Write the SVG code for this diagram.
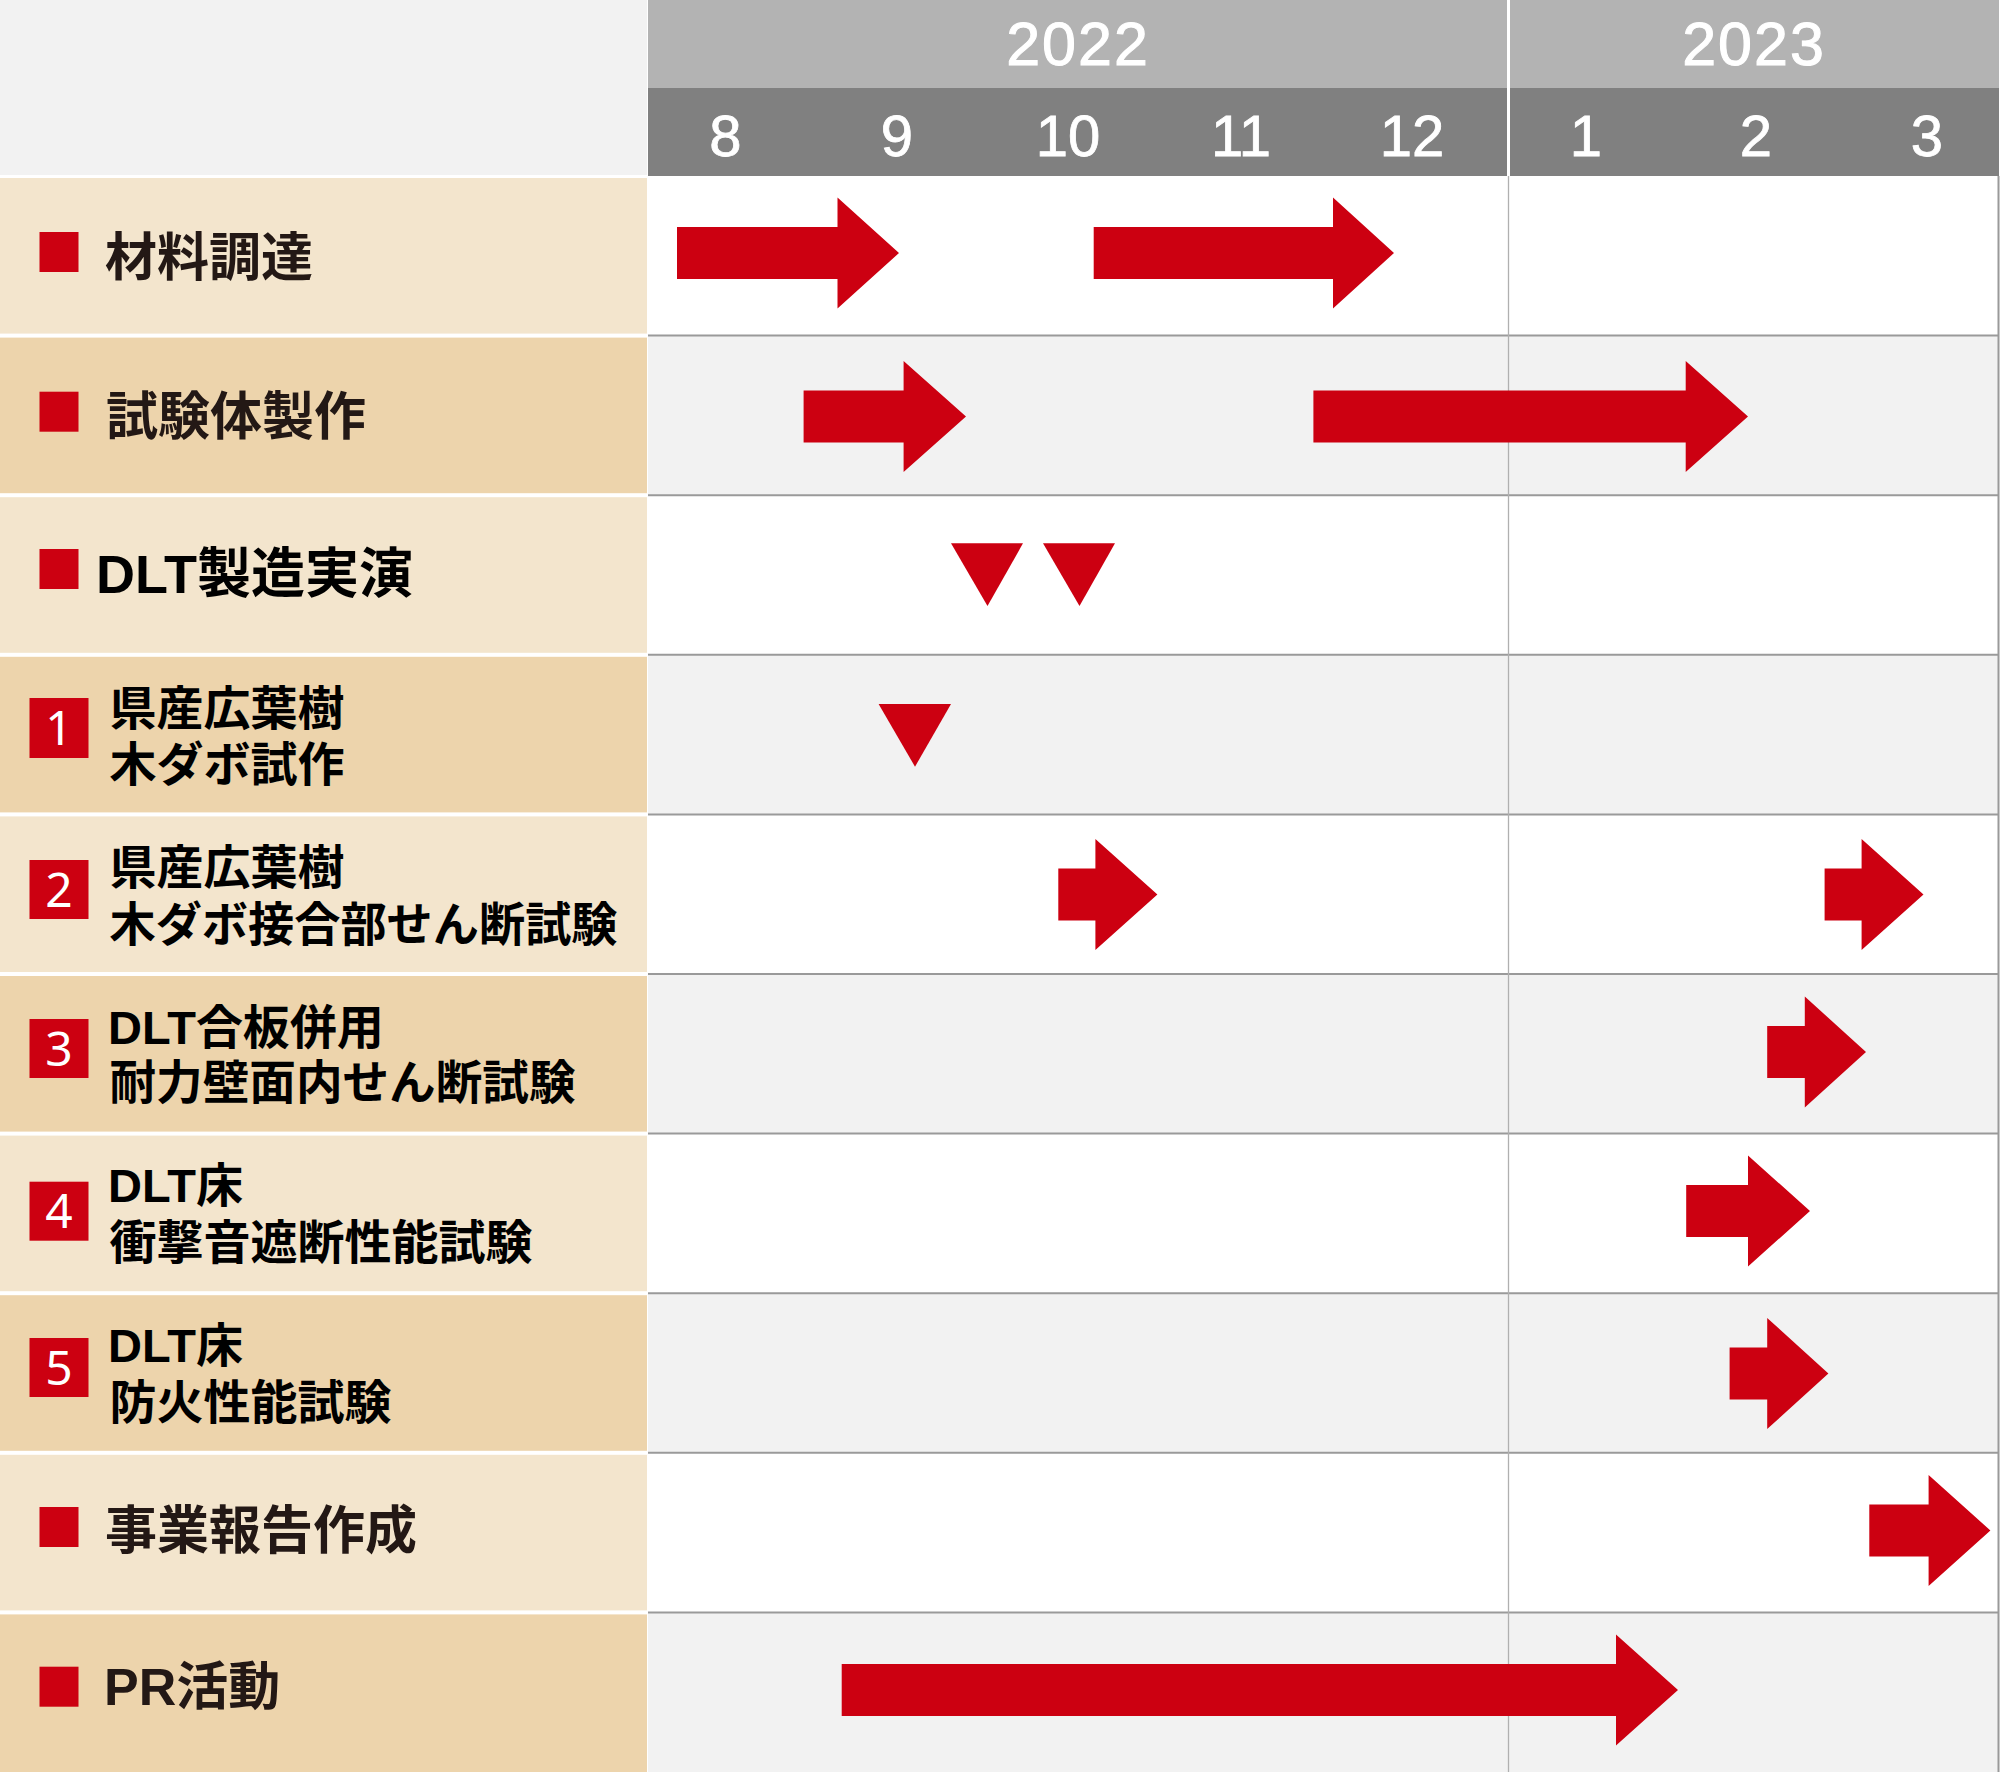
<svg xmlns="http://www.w3.org/2000/svg" width="2000" height="1772" viewBox="0 0 2000 1772">
<style>
.bgl{fill:#f3e5cd}
.bgd{fill:#edd4ac}
.cw{fill:#ffffff}
.cg{fill:#f2f2f2}
.sep{stroke:#9a9a9a;stroke-width:2}
.red{fill:#cc0011}
.lab{font-family:"Noto Sans CJK JP","Noto Sans",sans-serif;font-weight:bold;fill:#231815}
.lab2{font-family:"Noto Sans CJK JP","Noto Sans",sans-serif;font-weight:bold;fill:#000;font-size:47px}
.lat{font-family:"Liberation Sans",Arial,sans-serif;font-weight:bold}
.num{font-family:"Noto Sans","Open Sans",sans-serif;fill:#fff;font-size:48px;text-anchor:middle}
.yr{font-family:"Liberation Sans",Arial,sans-serif;fill:#fff;stroke:#fff;stroke-width:1;font-size:61px;text-anchor:middle;letter-spacing:2px}
.mo{font-family:"Liberation Sans",Arial,sans-serif;fill:#fff;stroke:#fff;stroke-width:0.8;font-size:58px;text-anchor:middle}
</style>
<rect width="2000" height="1772" fill="#ffffff"/>
<g id="header">
<rect x="0" y="0" width="647" height="175" fill="#f2f2f2"/>
<rect x="648" y="0" width="1351" height="88" fill="#b3b3b3"/>
<rect x="648" y="88" width="1351" height="88" fill="#808080"/>
<rect x="1507" y="0" width="3" height="176" fill="#ffffff"/>
<text class="yr" x="1078" y="65">2022</text>
<text class="yr" x="1754" y="65">2023</text>
<text class="mo" x="725.5" y="156">8</text>
<text class="mo" x="897" y="156">9</text>
<text class="mo" x="1068" y="156">10</text>
<text class="mo" x="1241" y="156">11</text>
<text class="mo" x="1412" y="156">12</text>
<text class="mo" x="1586" y="156">1</text>
<text class="mo" x="1756" y="156">2</text>
<text class="mo" x="1927" y="156">3</text>
</g>
<g id="chart-grid">
<rect class="cw" x="648" y="176" width="1350" height="159.6"/>
<rect class="cg" x="648" y="335.6" width="1350" height="159.6"/>
<rect class="cw" x="648" y="495.2" width="1350" height="159.6"/>
<rect class="cg" x="648" y="654.8" width="1350" height="159.6"/>
<rect class="cw" x="648" y="814.4" width="1350" height="159.6"/>
<rect class="cg" x="648" y="974" width="1350" height="159.6"/>
<rect class="cw" x="648" y="1133.6" width="1350" height="159.6"/>
<rect class="cg" x="648" y="1293.2" width="1350" height="159.6"/>
<rect class="cw" x="648" y="1452.8" width="1350" height="159.6"/>
<rect class="cg" x="648" y="1612.4" width="1350" height="159.6"/>
<line class="sep" x1="648" y1="335.6" x2="1999" y2="335.6"/>
<line class="sep" x1="648" y1="495.2" x2="1999" y2="495.2"/>
<line class="sep" x1="648" y1="654.8" x2="1999" y2="654.8"/>
<line class="sep" x1="648" y1="814.4" x2="1999" y2="814.4"/>
<line class="sep" x1="648" y1="974" x2="1999" y2="974"/>
<line class="sep" x1="648" y1="1133.6" x2="1999" y2="1133.6"/>
<line class="sep" x1="648" y1="1293.2" x2="1999" y2="1293.2"/>
<line class="sep" x1="648" y1="1452.8" x2="1999" y2="1452.8"/>
<line class="sep" x1="648" y1="1612.4" x2="1999" y2="1612.4"/>
<line x1="1508.5" y1="176" x2="1508.5" y2="1772" stroke="#b0b0b0" stroke-width="1.3"/>
<line x1="1998.5" y1="176" x2="1998.5" y2="1772" stroke="#9a9a9a" stroke-width="2"/>
</g>
<g id="row-1">
<rect class="bgl" x="0" y="178" width="647" height="155.6"/>
<rect class="red" x="39.5" y="232" width="39" height="40"/>
<text class="lab" x="105" y="276" font-size="52">材料調達</text>
</g>
<g id="row-2">
<rect class="bgd" x="0" y="337.6" width="647" height="155.6"/>
<rect class="red" x="39.5" y="391.7" width="39" height="40"/>
<text class="lab" x="106" y="435" font-size="52">試験体製作</text>
</g>
<g id="row-3">
<rect class="bgl" x="0" y="497.2" width="647" height="155.6"/>
<rect class="red" x="39.5" y="549" width="39" height="40"/>
<text class="lab" x="96" y="593" font-size="54" style="fill:#000"><tspan class="lat">DLT</tspan>製造実演</text>
</g>
<g id="row-4">
<rect class="bgd" x="0" y="656.8" width="647" height="155.6"/>
<rect class="red" x="29.5" y="698" width="59" height="60"/>
<text class="num" x="59" y="745">1</text>
<text class="lab2"><tspan x="109.5" y="724.5">県産広葉樹</tspan><tspan x="109.5" y="781">木ダボ試作</tspan></text>
</g>
<g id="row-5">
<rect class="bgl" x="0" y="816.4" width="647" height="155.6"/>
<rect class="red" x="29.5" y="860" width="59" height="59"/>
<text class="num" x="59" y="906.5">2</text>
<text class="lab2"><tspan x="109.5" y="884">県産広葉樹</tspan><tspan x="109.5" y="941" textLength="508" lengthAdjust="spacingAndGlyphs">木ダボ接合部せん断試験</tspan></text>
</g>
<g id="row-6">
<rect class="bgd" x="0" y="976" width="647" height="155.6"/>
<rect class="red" x="29.5" y="1019" width="59" height="59"/>
<text class="num" x="59" y="1065.5">3</text>
<text class="lab2"><tspan x="108" y="1044"><tspan class="lat">DLT</tspan>合板併用</tspan><tspan x="109.5" y="1099" textLength="466" lengthAdjust="spacingAndGlyphs">耐力壁面内せん断試験</tspan></text>
</g>
<g id="row-7">
<rect class="bgl" x="0" y="1135.6" width="647" height="155.6"/>
<rect class="red" x="29.5" y="1181.7" width="59" height="59"/>
<text class="num" x="59" y="1228">4</text>
<text class="lab2"><tspan x="108" y="1202"><tspan class="lat">DLT</tspan>床</tspan><tspan x="109.5" y="1259">衝撃音遮断性能試験</tspan></text>
</g>
<g id="row-8">
<rect class="bgd" x="0" y="1295.2" width="647" height="155.6"/>
<rect class="red" x="29.5" y="1338" width="59" height="59"/>
<text class="num" x="59" y="1384.5">5</text>
<text class="lab2"><tspan x="108" y="1362"><tspan class="lat">DLT</tspan>床</tspan><tspan x="109.5" y="1419">防火性能試験</tspan></text>
</g>
<g id="row-9">
<rect class="bgl" x="0" y="1454.8" width="647" height="155.6"/>
<rect class="red" x="39.5" y="1507" width="39" height="40"/>
<text class="lab" x="105" y="1549" font-size="52">事業報告作成</text>
</g>
<g id="row-10">
<rect class="bgd" x="0" y="1614.4" width="647" height="157.6"/>
<rect class="red" x="39.5" y="1666.7" width="39" height="40"/>
<text class="lab" x="104" y="1705" font-size="52"><tspan class="lat">PR</tspan>活動</text>
</g>
<g id="connectors">
<polygon class="red" points="677,227 837.5,227 837.5,197.5 899,253 837.5,308.5 837.5,279 677,279"/>
<polygon class="red" points="1093.7,227 1333,227 1333,197.5 1394,253 1333,308.5 1333,279 1093.7,279"/>
<polygon class="red" points="803.6,390.5 903.6,390.5 903.6,361 966,416.5 903.6,472 903.6,442.5 803.6,442.5"/>
<polygon class="red" points="1313.4,390.5 1685.7,390.5 1685.7,361 1748,416.5 1685.7,472 1685.7,442.5 1313.4,442.5"/>
<polygon class="red" points="951,543.3 1023,543.3 987.5,606"/>
<polygon class="red" points="1043,543.3 1115,543.3 1079.5,606"/>
<polygon class="red" points="878.6,704 951,704 915,766.7"/>
<polygon class="red" points="1058.3,868.5 1095.4,868.5 1095.4,839 1157.4,894.5 1095.4,950 1095.4,920.5 1058.3,920.5"/>
<polygon class="red" points="1824.6,868.5 1861.6,868.5 1861.6,839 1923.5,894.5 1861.6,950 1861.6,920.5 1824.6,920.5"/>
<polygon class="red" points="1767.2,1026 1804.8,1026 1804.8,996.5 1866,1052 1804.8,1107.5 1804.8,1078 1767.2,1078"/>
<polygon class="red" points="1686.2,1185 1748,1185 1748,1155.5 1810,1211 1748,1266.5 1748,1237 1686.2,1237"/>
<polygon class="red" points="1729.6,1347.5 1767.2,1347.5 1767.2,1318 1828.4,1373.5 1767.2,1429 1767.2,1399.5 1729.6,1399.5"/>
<polygon class="red" points="1869.3,1504.5 1928.6,1504.5 1928.6,1475 1990.4,1530.5 1928.6,1586 1928.6,1556.5 1869.3,1556.5"/>
<polygon class="red" points="841.7,1664 1616,1664 1616,1634.5 1678,1690 1616,1745.5 1616,1716 841.7,1716"/>
</g>
</svg>
